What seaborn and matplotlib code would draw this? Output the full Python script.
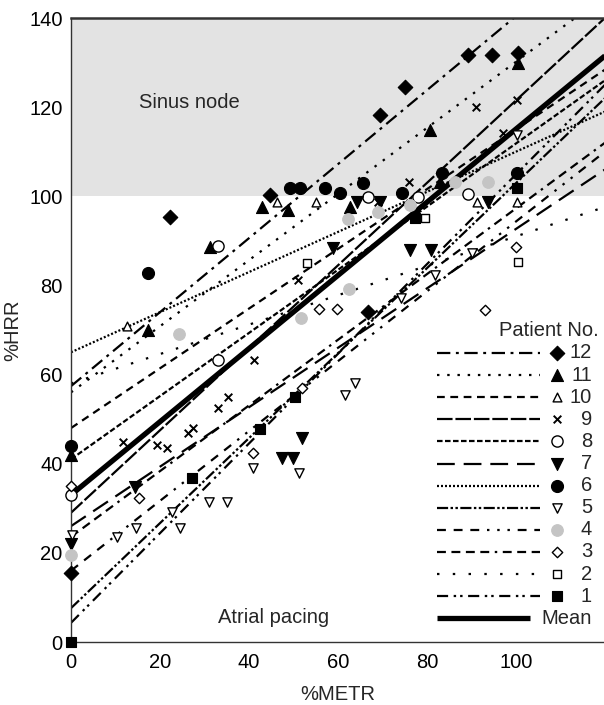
import numpy as np
import pandas as pd
import matplotlib
matplotlib.use("Agg")
import matplotlib.pyplot as plt
import seaborn as sns

sns.set_theme(style="white")
plt.rcParams['font.family'] = ['Liberation Sans', 'DejaVu Sans']

# ---------------- data ----------------
patients = [12, 11, 10, 9, 8, 7, 6, 5, 4, 3, 2, 1]

p1_x = [0, 27.2, 42.5, 50.3, 77.3, 100.2]
p1_y = [0, 36.7, 47.8, 55.0, 95.1, 101.9]
p2_x = [53, 79.6, 100.5]
p2_y = [85, 95.1, 85.3]
p3_x = [0, 15.3, 41, 52, 55.7, 59.7, 93, 100]
p3_y = [35, 32.3, 42.4, 57, 74.7, 74.7, 74.5, 88.6]
p4_x = [0, 24.3, 51.8, 62.3, 62.5, 69, 76.2, 86.3, 93.7]
p4_y = [19.5, 69.1, 72.6, 95, 79.2, 96.5, 98, 103.3, 103.3]
p5_x = [0.2, 10.3, 14.6, 22.7, 24.5, 31, 35, 41, 51.3, 61.6, 63.8, 74.2, 81.8, 90.1, 100.2]
p5_y = [24, 23.6, 25.6, 29.2, 25.6, 31.4, 31.4, 39, 37.9, 55.4, 58.1, 77.2, 82.3, 87.3, 113.8]
p6_x = [0, 17.3, 49.2, 51.5, 57, 60.4, 65.6, 74.4, 83.4, 100.2]
p6_y = [44, 82.8, 101.8, 101.8, 101.9, 100.7, 103, 100.7, 105.2, 105.2]
p7_x = [0, 14.4, 47.5, 50, 52, 59, 64.2, 69.4, 76.2, 81, 93.7]
p7_y = [22, 34.8, 41.2, 41.2, 45.8, 88.3, 98.8, 98.8, 88, 88, 98.8]
p8_x = [0, 33, 33, 66.8, 78, 89.2]
p8_y = [33, 88.8, 63.3, 99.9, 99.9, 100.5]
p9_x = [11.7, 19.3, 21.6, 26.3, 27.4, 33, 35.3, 41.1, 51, 69, 76, 91, 97, 100.2]
p9_y = [44.9, 44.2, 43.5, 46.9, 48, 52.5, 55, 63.3, 81.2, 98.8, 103.3, 120, 114.3, 121.6]
p10_x = [12.6, 46.3, 55, 91.2, 100.2]
p10_y = [71, 98.7, 98.7, 98.8, 98.8]
p11_x = [0, 17.3, 31.2, 43, 48.8, 62.7, 80.7, 83, 100.5]
p11_y = [42, 70, 88.7, 97.6, 96.9, 97.6, 114.9, 103.3, 130]
p12_x = [0, 22.2, 44.7, 66.8, 69.4, 75, 89.2, 94.6, 100.5]
p12_y = [15.5, 95.4, 100.3, 74, 118.2, 124.5, 131.7, 131.7, 132.2]

# regression lines: value at %METR = 0 and at %METR = 120
line_x = [0, 120]
line_start = {12: 57.4, 11: 56, 10: 48, 9: 29, 8: 41, 7: 26, 6: 65,
              5: 7.6, 4: 16, 3: 23.6, 2: 58, 1: 4.3}
line_end = {12: 157, 11: 145, 10: 128.4, 9: 140, 8: 126, 7: 106, 6: 119,
            5: 122, 4: 110, 3: 112, 2: 97.6, 1: 125}
mean_start, mean_end = 33, 131.5

points = {1: (p1_x, p1_y), 2: (p2_x, p2_y), 3: (p3_x, p3_y), 4: (p4_x, p4_y),
          5: (p5_x, p5_y), 6: (p6_x, p6_y), 7: (p7_x, p7_y), 8: (p8_x, p8_y),
          9: (p9_x, p9_y), 10: (p10_x, p10_y), 11: (p11_x, p11_y), 12: (p12_x, p12_y)}

# ---------------- styles ----------------
BLK = "black"
GREY = "#c4c4c4"
mstyle = {
    12: dict(marker="D", s=55, facecolor=BLK, edgecolor=BLK, lw=0.8),
    11: dict(marker="^", s=75, facecolor=BLK, edgecolor=BLK, lw=0.8),
    10: dict(marker="^", s=40, facecolor="white", edgecolor=BLK, lw=1.0),
    9:  dict(marker="x", s=30, facecolor=BLK, edgecolor=BLK, lw=1.4),
    8:  dict(marker="o", s=65, facecolor="white", edgecolor=BLK, lw=1.0),
    7:  dict(marker="v", s=75, facecolor=BLK, edgecolor=BLK, lw=0.8),
    6:  dict(marker="o", s=75, facecolor=BLK, edgecolor=BLK, lw=0.8),
    5:  dict(marker="v", s=45, facecolor="white", edgecolor=BLK, lw=1.0),
    4:  dict(marker="o", s=70, facecolor=GREY, edgecolor=GREY, lw=0.8),
    3:  dict(marker="D", s=28, facecolor="white", edgecolor=BLK, lw=1.0),
    2:  dict(marker="s", s=30, facecolor="white", edgecolor=BLK, lw=1.0),
    1:  dict(marker="s", s=50, facecolor=BLK, edgecolor=BLK, lw=0.8),
}
dash = {
    12: (6, 2.5, 1.3, 2.5),
    11: (1.1, 3.5),
    10: (3.5, 2.5),
    9:  (7, 1.3),
    8:  (2.5, 1.1),
    7:  (8, 4),
    6:  (0.9, 0.9),
    5:  (5, 1.1, 1.1, 1.1, 1.1, 1.1),
    4:  (4, 3.5, 4, 3.5, 4, 3.5, 1.1, 3.5, 1.1, 3.5, 1.1, 3.5),
    3:  (4, 2.5, 4, 2.5, 4, 2.5, 4, 2.5, 1.1, 2.5),
    2:  (1.1, 6),
    1:  (5, 2.5, 1.1, 1.8, 1.1, 2.5),
}
LW = 1.6
FS = 14.5

fig = plt.figure(figsize=(6.04, 7.05), dpi=100)
ax = fig.add_axes([71 / 604, 1 - 642 / 705, (604 - 71) / 604, (642 - 18) / 705])

ax.axhspan(100, 140, color="#e3e3e3", zorder=0, lw=0)

for p in patients:
    d = pd.DataFrame({"x": line_x, "y": [line_start[p], line_end[p]]})
    sns.lineplot(data=d, x="x", y="y", ax=ax, color=BLK, lw=LW, zorder=2)
    ax.lines[-1].set_dashes(dash[p])
dm = pd.DataFrame({"x": line_x, "y": [mean_start, mean_end]})
sns.lineplot(data=dm, x="x", y="y", ax=ax, color=BLK, lw=3.8, zorder=3,
             solid_capstyle="butt")

for p in patients:
    xs, ys = points[p]
    st = mstyle[p]
    d = pd.DataFrame({"x": xs, "y": ys})
    if st["marker"] == "x":
        sns.scatterplot(data=d, x="x", y="y", ax=ax, marker="x", s=st["s"],
                        color=BLK, linewidth=st["lw"], zorder=4, clip_on=False)
    else:
        sns.scatterplot(data=d, x="x", y="y", ax=ax, marker=st["marker"], s=st["s"],
                        facecolor=st["facecolor"], edgecolor=st["edgecolor"],
                        linewidth=st["lw"], zorder=4, clip_on=False)

ax.set_xlim(0, 119.8)
ax.set_ylim(0, 140)
ax.set_xticks([0, 20, 40, 60, 80, 100])
ax.set_yticks([0, 20, 40, 60, 80, 100, 120, 140])
ax.tick_params(direction="in", length=4, width=1, colors="#333333",
               labelsize=FS, labelcolor="black")
ax.tick_params(axis="x", pad=8)
ax.tick_params(axis="y", pad=6)
for side in ["left", "bottom", "top"]:
    ax.spines[side].set_color("#333333")
    ax.spines[side].set_linewidth(1.0)
ax.spines["top"].set_linewidth(1.8)
ax.spines["right"].set_visible(False)
ax.set_xlabel("%METR", fontsize=FS, labelpad=9)
ax.set_ylabel("%HRR", fontsize=FS, labelpad=5)

ax.text(15.3, 121, "Sinus node", fontsize=FS, va="center", ha="left")
ax.text(33, 5.6, "Atrial pacing", fontsize=FS, va="center", ha="left")

# ---------------- legend ----------------
tr = ax.transAxes
def fx(px):
    return (px - 71) / 533
def fy(py):
    return (642 - py) / 624

ax.text(fx(599), fy(331), "Patient No.", fontsize=FS, ha="right", va="center", transform=tr)
rows = patients + ["Mean"]
for i, p in enumerate(rows):
    yy = fy(353 + 22.1 * i)
    if p == "Mean":
        ax.plot([fx(437), fx(530)], [yy, yy], color=BLK, lw=3.8, transform=tr,
                solid_capstyle="butt", clip_on=False)
        ax.text(fx(592), yy, "Mean", fontsize=FS, ha="right", va="center", transform=tr)
        continue
    ln, = ax.plot([fx(437), fx(540)], [yy, yy], color=BLK, lw=LW, transform=tr, clip_on=False)
    ln.set_dashes(dash[p])
    st = mstyle[p]
    if st["marker"] == "x":
        ax.scatter([fx(557)], [yy], marker="x", s=st["s"], color=BLK, linewidths=st["lw"],
                   transform=tr, zorder=5, clip_on=False)
    else:
        ax.scatter([fx(557)], [yy], marker=st["marker"], s=st["s"], facecolor=st["facecolor"],
                   edgecolor=st["edgecolor"], linewidths=st["lw"], transform=tr, zorder=5,
                   clip_on=False)
    ax.text(fx(592), yy, str(p), fontsize=FS, ha="right", va="center", transform=tr)

fig.savefig("out.png", dpi=100)
